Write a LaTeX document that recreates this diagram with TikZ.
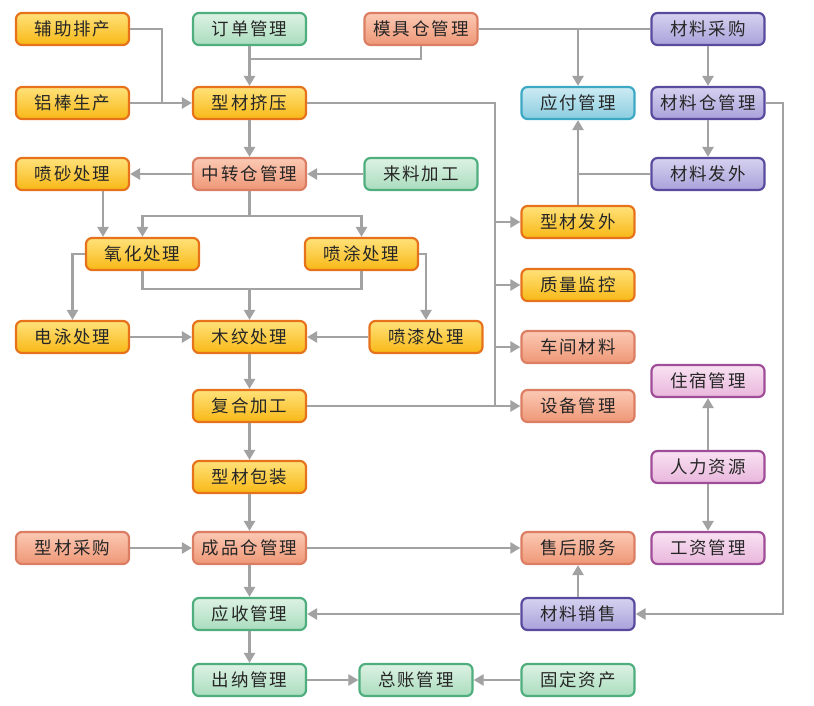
\documentclass[tikz,border=0pt]{standalone}
\usepackage{fontspec}
\newfontfamily\cjk[LetterSpace=11]{Noto Sans CJK SC}
\usetikzlibrary{arrows.meta,calc}
\definecolor{lc}{HTML}{A2A2A2}
\definecolor{tc}{HTML}{262626}
\definecolor{yT}{HTML}{FFE27A}\definecolor{yB}{HTML}{F8B816}\definecolor{yD}{HTML}{E6731C}
\definecolor{sT}{HTML}{FCC9B4}\definecolor{sB}{HTML}{EE9776}\definecolor{sD}{HTML}{DB7E63}
\definecolor{gT}{HTML}{DDF2E4}\definecolor{gB}{HTML}{AADDBE}\definecolor{gD}{HTML}{4FAE7E}
\definecolor{bT}{HTML}{CDEBF3}\definecolor{bB}{HTML}{8ACDE0}\definecolor{bD}{HTML}{3DA8C4}
\definecolor{pT}{HTML}{D6D2F0}\definecolor{pB}{HTML}{A9A1DA}\definecolor{pD}{HTML}{5A4A9E}
\definecolor{kT}{HTML}{F8E2F2}\definecolor{kB}{HTML}{E9B6DC}\definecolor{kD}{HTML}{A04D98}
\tikzset{
  box/.style={rounded corners=6pt, minimum width=113pt, minimum height=32pt, inner sep=0pt,
    line width=2.2pt, font=\cjk\fontsize{17.5}{17.5}\selectfont, text=tc},
  yel/.style={box, draw=yD, top color=yT, bottom color=yB},
  sal/.style={box, draw=sD, top color=sT, bottom color=sB},
  grn/.style={box, draw=gD, top color=gT, bottom color=gB},
  blu/.style={box, draw=bD, top color=bT, bottom color=bB},
  pur/.style={box, draw=pD, top color=pT, bottom color=pB},
  pnk/.style={box, draw=kD, top color=kT, bottom color=kB},
  ln/.style={draw=lc, line width=2.4pt},
  arr/.style={ln, -{Triangle[length=10pt,width=11pt]}},
}
\begin{document}
\begin{tikzpicture}[x=1pt,y=-1pt]
\useasboundingbox (0,0) rectangle (814,706);
% column A
\node[yel] (fuzhu) at (72.5,29) {辅助排产};
\node[yel] (lvbang) at (72.5,103) {铝棒生产};
\node[yel] (pensha) at (72.5,174) {喷砂处理};
\node[yel] (dianyong) at (72.5,337) {电泳处理};
\node[sal] (xccaigou) at (72.5,548) {型材采购};
% column B
\node[grn] (dingdan) at (249.5,29) {订单管理};
\node[yel] (jiya) at (249.5,103) {型材挤压};
\node[sal] (zhongzhuan) at (249.5,174) {中转仓管理};
\node[yel] (yanghua) at (142.5,254) {氧化处理};
\node[yel] (pentu) at (361.5,254) {喷涂处理};
\node[yel] (muwen) at (249.5,337) {木纹处理};
\node[yel] (penqi) at (426,337) {喷漆处理};
\node[yel] (fuhe) at (249.5,406) {复合加工};
\node[yel] (baozhuang) at (249.5,477) {型材包装};
\node[sal] (chengpin) at (249.5,548) {成品仓管理};
\node[grn] (yingshou) at (249.5,614) {应收管理};
\node[grn] (chuna) at (249.5,680) {出纳管理};
% column C
\node[sal] (muju) at (421,29) {模具仓管理};
\node[grn] (laoliao) at (421,174) {来料加工};
\node[grn] (zongzhang) at (416,680) {总账管理};
% column D
\node[blu] (yingfu) at (578,103) {应付管理};
\node[yel] (fawai) at (578,222) {型材发外};
\node[yel] (zhiliang) at (578,285) {质量监控};
\node[sal] (chejian) at (578,347) {车间材料};
\node[sal] (shebei) at (578,406) {设备管理};
\node[sal] (shouhou) at (578,548) {售后服务};
\node[pur] (xiaoshou) at (578,614) {材料销售};
\node[grn] (guding) at (578,680) {固定资产};
% column E
\node[pur] (caigou) at (708,29) {材料采购};
\node[pur] (cailiaocang) at (708,103) {材料仓管理};
\node[pur] (clfawai) at (708,174) {材料发外};
\node[pnk] (zhusu) at (708,381) {住宿管理};
\node[pnk] (renli) at (708,467) {人力资源};
\node[pnk] (gongzi) at (708,548) {工资管理};
% junction coordinates
\coordinate (jA) at (162,103);
\coordinate (jB) at (249.5,59);
\coordinate (jC) at (578,29);
\coordinate (jD) at (578,174);
\coordinate (jE) at (495,103);
\coordinate (jE2) at (495,406);
\coordinate (jF) at (249.5,216);
\coordinate (jG) at (249.5,289);
\coordinate (jH) at (783,103);
% top-left
\draw[ln] (fuzhu.east) -| (jA);
\draw[arr] (lvbang.east) -- (jiya.west);
\draw[arr] (dingdan.south) -- (jiya.north);
\draw[ln] (muju.south) |- (jB);
\draw[arr] (jiya.south) -- (zhongzhuan.north);
\draw[arr] (zhongzhuan.west) -- (pensha.east);
\draw[arr] (laoliao.west) -- (zhongzhuan.east);
\draw[arr] ([xshift=30.5pt]pensha.south) -- ([xshift=30.5pt]pensha.south |- yanghua.north);
% surface treatments
\draw[ln] (zhongzhuan.south) -- (jF);
\draw[arr] (jF) -| (yanghua.north);
\draw[arr] (jF) -| (pentu.north);
\draw[arr] (yanghua.west) -| (dianyong.north);
\draw[arr] (pentu.east) -| (penqi.north);
\draw[ln] (yanghua.south) |- (jG);
\draw[ln] (pentu.south) |- (jG);
\draw[arr] (jG) -- (muwen.north);
\draw[arr] (dianyong.east) -- (muwen.west);
\draw[arr] (penqi.west) -- (muwen.east);
\draw[arr] (muwen.south) -- (fuhe.north);
\draw[arr] (fuhe.south) -- (baozhuang.north);
\draw[arr] (baozhuang.south) -- (chengpin.north);
\draw[arr] (xccaigou.east) -- (chengpin.west);
\draw[arr] (chengpin.east) -- (shouhou.west);
\draw[arr] (chengpin.south) -- (yingshou.north);
\draw[arr] (yingshou.south) -- (chuna.north);
\draw[arr] (chuna.east) -- (zongzhang.west);
\draw[arr] (guding.west) -- (zongzhang.east);
\draw[arr] (xiaoshou.west) -- (yingshou.east);
\draw[arr] (xiaoshou.north) -- (shouhou.south);
% bus from extrusion
\draw[ln] (jiya.east) -- (jE) -- (jE2);
\draw[arr] (jE |- fawai.west) -- (fawai.west);
\draw[arr] (jE |- zhiliang.west) -- (zhiliang.west);
\draw[arr] (jE |- chejian.west) -- (chejian.west);
\draw[arr] (fuhe.east) -- (shebei.west);
% purchasing side
\draw[ln] (muju.east) -- (caigou.west);
\draw[arr] (jC) -- (yingfu.north);
\draw[arr] (caigou.south) -- (cailiaocang.north);
\draw[arr] (cailiaocang.south) -- (clfawai.north);
\draw[ln] (clfawai.west) -- (jD);
\draw[arr] (fawai.north) -- (yingfu.south);
\draw[arr] (cailiaocang.east) -- (jH) |- (xiaoshou.east);
% HR
\draw[arr] (renli.north) -- (zhusu.south);
\draw[arr] (renli.south) -- (gongzi.north);
\end{tikzpicture}
\end{document}
